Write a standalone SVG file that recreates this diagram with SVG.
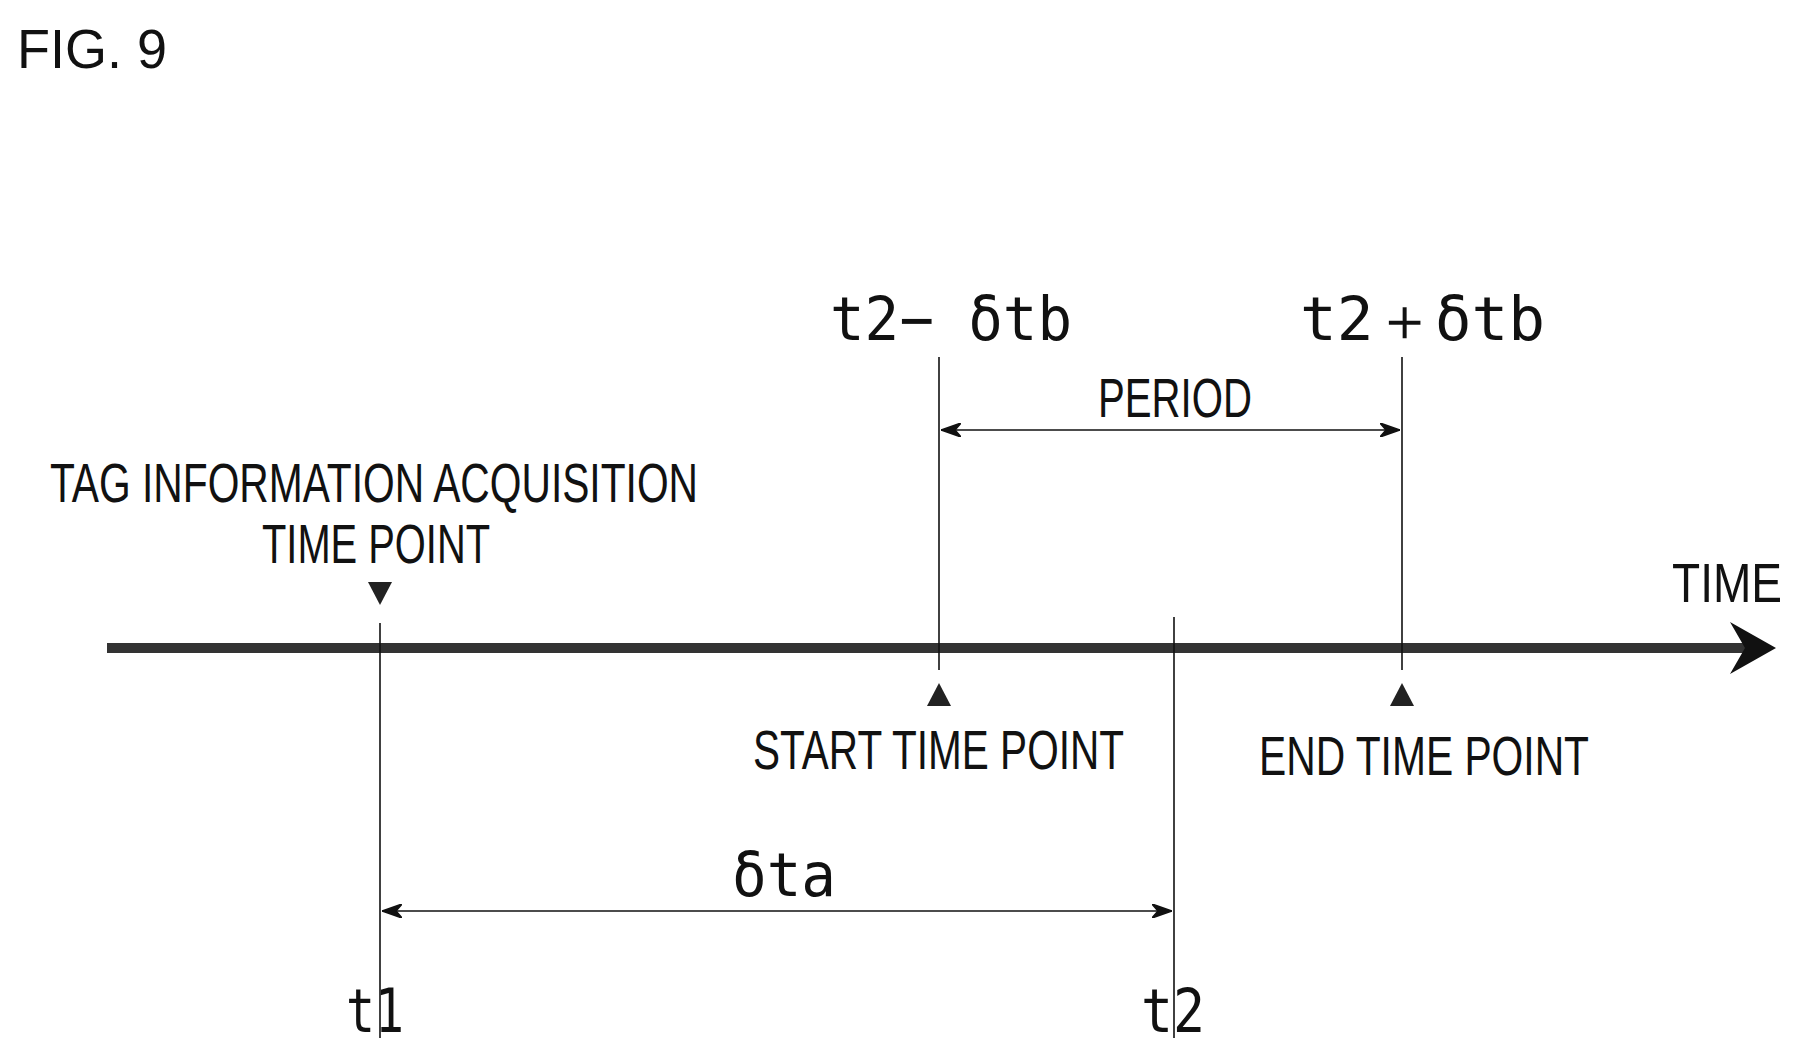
<svg xmlns="http://www.w3.org/2000/svg" width="1808" height="1055" viewBox="0 0 1808 1055">
<defs>
<style>
.c{font-family:"Liberation Sans",Arial,sans-serif;fill:#111;font-size:56px}
.m{font-family:"DejaVu Sans Mono","Liberation Mono",monospace;fill:#111;font-size:60px}
.l{stroke:#111;stroke-width:1.6;fill:none}
</style>
<marker id="ah" viewBox="0 0 20 14" refX="20" refY="7" markerWidth="20" markerHeight="14" markerUnits="userSpaceOnUse" orient="auto-start-reverse"><path d="M0,0 L20,7 L0,14 L6,7 Z" fill="#111" stroke="#111" stroke-width="1.5"/></marker>
</defs>
<rect width="1808" height="1055" fill="#fff"/>
<text class="c" x="17" y="68" font-size="50" textLength="150" lengthAdjust="spacingAndGlyphs">FIG. 9</text>
<g id="connectors">
<line x1="107" y1="648" x2="1765" y2="648" stroke="#333" stroke-width="10"/>
<path d="M1730,622 L1776,648 L1730,674 L1745,648 Z" fill="#111"/>
<line class="l" x1="380" y1="623" x2="380" y2="1038"/>
<line class="l" x1="1174" y1="617" x2="1174" y2="1038"/>
<line class="l" x1="939" y1="357" x2="939" y2="670"/>
<line class="l" x1="1402" y1="357" x2="1402" y2="670"/>
<line class="l" x1="941" y1="430" x2="1400" y2="430" stroke-width="2.5" marker-start="url(#ah)" marker-end="url(#ah)"/>
<line class="l" x1="382" y1="911" x2="1172" y2="911" stroke-width="2.5" marker-start="url(#ah)" marker-end="url(#ah)"/>
<path d="M368,582 L392,582 L380,605 Z" fill="#222"/>
<path d="M927,706 L951,706 L939,683 Z" fill="#222"/>
<path d="M1390,706 L1414,706 L1402,683 Z" fill="#222"/>
</g>
<g id="labels">
<text class="m" x="830" y="340" textLength="242" lengthAdjust="spacingAndGlyphs">t2− δtb</text>
<text class="m" x="1300" y="340" textLength="245" lengthAdjust="spacingAndGlyphs">t2＋δtb</text>
<text class="c" x="1098" y="417" textLength="154" lengthAdjust="spacingAndGlyphs">PERIOD</text>
<text class="c" x="50" y="502" textLength="648" lengthAdjust="spacingAndGlyphs">TAG INFORMATION ACQUISITION</text>
<text class="c" x="262" y="563" textLength="228" lengthAdjust="spacingAndGlyphs">TIME POINT</text>
<text class="c" x="1672" y="602" textLength="110" lengthAdjust="spacingAndGlyphs">TIME</text>
<text class="c" x="753" y="769" textLength="371" lengthAdjust="spacingAndGlyphs">START TIME POINT</text>
<text class="c" x="1259" y="775" textLength="330" lengthAdjust="spacingAndGlyphs">END TIME POINT</text>
<text class="m" x="732" y="896" textLength="104" lengthAdjust="spacingAndGlyphs">δta</text>
<text class="m" x="346" y="1032" textLength="58" lengthAdjust="spacingAndGlyphs">t1</text>
<text class="m" x="1141" y="1032" textLength="64" lengthAdjust="spacingAndGlyphs">t2</text>
</g>
</svg>
